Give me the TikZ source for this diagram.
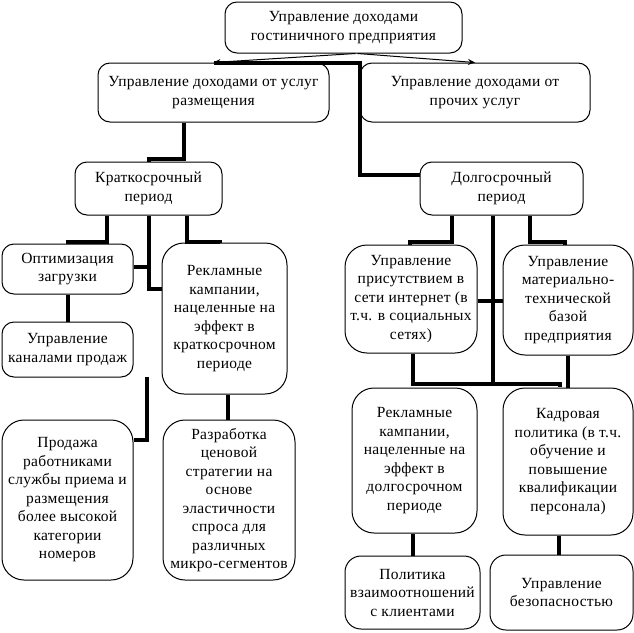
\documentclass[tikz,border=0pt]{standalone}
\usepackage{fontspec}
\setmainfont{Liberation Serif}[LetterSpace=2.0]
\usetikzlibrary{arrows.meta}
\begin{document}
\begin{tikzpicture}[x=1pt,y=-1pt,
  box/.style={draw, line width=1pt, rounded corners=12pt, align=center, inner sep=0pt,
    font=\fontsize{15.5}{18.5}\selectfont},
  tall/.style={box, rounded corners=22pt},
  mid/.style={box, rounded corners=16pt},
  conn/.style={line width=4pt, line cap=butt, line join=miter},
  thinarrow/.style={line width=1pt, -{Stealth[length=7pt,width=6pt]}}]
\useasboundingbox (0,0) rectangle (634,632);

\node[box, minimum width=237pt, minimum height=51pt] (top) at (343.5,27.5)
  {Управление доходами\\гостиничного предприятия};
\node[box, minimum width=231pt, minimum height=59pt] (l2a) at (213.5,92.5)
  {Управление доходами от услуг\\размещения};
\node[box, minimum width=230pt, minimum height=59pt] (l2b) at (475,92.5)
  {Управление доходами от\\прочих услуг};
\node[box, minimum width=147pt, minimum height=53pt] (kr) at (148.5,188.5)
  {Краткосрочный\\период};
\node[box, minimum width=163pt, minimum height=53pt] (dolg) at (501.5,188.5)
  {Долгосрочный\\период};
\node[box, minimum width=131pt, minimum height=50pt] (opt) at (67.5,269)
  {Оптимизация\\загрузки};
\node[box, minimum width=131pt, minimum height=55pt] (kan) at (67.5,349.5)
  {Управление\\каналами продаж};
\node[tall, minimum width=125pt, minimum height=151pt] (adss) at (224.5,318.5)
  {Рекламные\\кампании,\\нацеленные на\\эффект в\\краткосрочном\\периоде};
\node[tall, minimum width=131pt, minimum height=160pt] (prod) at (67.5,500)
  {Продажа\\работниками\\службы приема и\\размещения\\более высокой\\категории\\номеров};
\node[tall, minimum width=132pt, minimum height=160pt] (razr) at (229,500)
  {Разработка\\ценовой\\стратегии на\\основе\\эластичности\\спроса для\\различных\\микро-сегментов};
\node[tall, minimum width=132pt, minimum height=108pt] (pris) at (411,299)
  {Управление\\присутствием в\\сети интернет (в\\т.ч. в социальных\\сетях)};
\node[tall, minimum width=130pt, minimum height=110pt] (mt) at (568,300)
  {Управление\\материально-\\технической\\базой\\предприятия};
\node[tall, minimum width=125pt, minimum height=145pt] (adsl) at (414.5,460.5)
  {Рекламные\\кампании,\\нацеленные на\\эффект в\\долгосрочном\\периоде};
\node[tall, minimum width=130pt, minimum height=147pt] (kadr) at (568,461.5)
  {Кадровая\\политика (в т.ч.\\обучение и\\повышение\\квалификации\\персонала)};
\node[mid, minimum width=135pt, minimum height=73pt] (pol) at (412.5,592.5)
  {Политика\\взаимоотношений\\с клиентами};
\node[mid, minimum width=143pt, minimum height=75pt] (bez) at (561.5,592.5)
  {Управление\\безопасностью};

% thin arrows from the top box
\draw[thinarrow] ([xshift=12pt]top.south) -- (l2a.north);
\draw[thinarrow] ([xshift=14pt]top.south) -- (l2b.north);

% thick connectors
\coordinate (jd) at (360,175);
\draw[conn] (l2a.north) -| (jd) -- (jd -| dolg.west);
\draw[conn] ([xshift=-29.5pt]l2a.south) -- ++(0,36) -| (kr.north);

\draw[conn] ([xshift=-41.5pt]kr.south) -- ++(0,26) -| (opt.north);
\draw[conn] (kr.south) |- ([yshift=29.5pt]adss.west);
\draw[conn] ([yshift=2pt]opt.east) -- ([yshift=2pt]opt.east -| kr.south);
\draw[conn] ([xshift=38.5pt]kr.south) -- ++(0,26) -| ([xshift=-4.5pt]adss.north);
\draw[conn] (opt.south) -- (kan.north);
\coordinate (fp) at (147,377);
\draw[conn] (fp) |- ([yshift=60pt]prod.east);
\draw[conn] ([xshift=-1pt]razr.north) -- ([xshift=-1pt]razr.north |- adss.south);

\draw[conn] ([xshift=-49.5pt]dolg.south) -- ++(0,26) -| ([xshift=-1pt]pris.north);
\draw[conn] ([xshift=28.5pt]dolg.south) -- ++(0,26) -| ([xshift=-3pt]mt.north);
\coordinate (busR) at (560,384);
\draw[conn] ([xshift=-8.5pt]dolg.south) -- ([xshift=-8.5pt]dolg.south |- busR);
\draw[conn] ([yshift=-2pt]pris.east) -- ([yshift=-2pt]pris.east -| mt.west);
\draw[conn] ([xshift=2pt]pris.south) |- (busR) -- ++(0,3);
\draw[conn] (mt.south) -- (kadr.north);
\draw[conn] (pol.north) -- (pol.north |- adsl.south);
\draw[conn] ([xshift=-3pt]bez.north) -- ([xshift=-3pt]bez.north |- kadr.south);
\end{tikzpicture}
\end{document}
